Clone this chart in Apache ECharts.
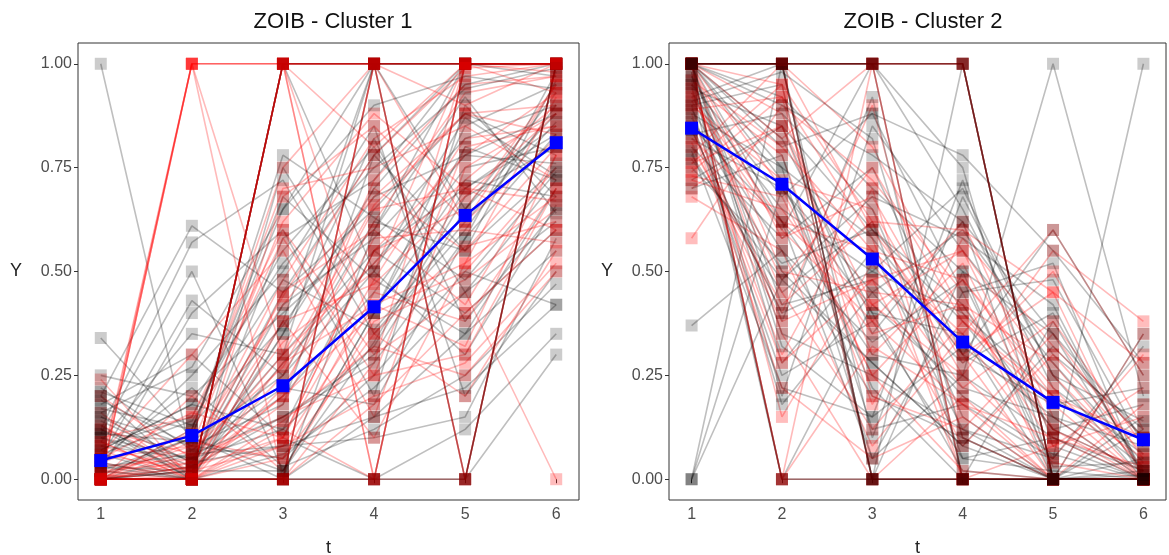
<!DOCTYPE html>
<html>
<head>
<meta charset="utf-8">
<script src="https://cdn.jsdelivr.net/npm/echarts@6/dist/echarts.min.js"></script>
<style>
  html, body { margin: 0; padding: 0; background: #fff; }
  #container { width: 1169px; height: 555px; }
</style>
</head>
<body>
<div id="container"></div>
<script type="text/javascript">
// time points and tick labels
var tValues = [1, 2, 3, 4, 5, 6];
var yTicks = [0, 0.25, 0.5, 0.75, 1];

// cluster 1 trajectories (gray and red groups)
var c1Gray = [
  [1.00, 0.05, 0.30, 0.55, 0.70, 0.85],
  [0.34, 0.10, 0.02, 0.40, 0.85, 0.95],
  [0.20, 0.61, 0.45, 0.78, 1.00, 1.00],
  [0.12, 0.57, 0.72, 0.35, 0.60, 0.90],
  [0.05, 0.43, 0.25, 0.62, 0.55, 0.75],
  [0.02, 0.40, 0.60, 0.20, 0.90, 0.68],
  [0.18, 0.30, 0.10, 0.00, 0.00, 0.30],
  [0.08, 0.15, 0.55, 0.80, 0.45, 0.62],
  [0.00, 0.00, 0.00, 0.15, 0.35, 0.55],
  [0.10, 0.05, 0.20, 0.45, 0.75, 0.80],
  [0.03, 0.02, 0.35, 0.70, 0.95, 1.00],
  [0.15, 0.08, 0.05, 0.25, 0.50, 0.42],
  [0.25, 0.20, 0.40, 0.60, 1.00, 0.97],
  [0.00, 0.12, 0.65, 1.00, 1.00, 1.00],
  [0.06, 0.00, 1.00, 0.50, 0.30, 0.66],
  [0.12, 0.03, 0.15, 0.30, 0.65, 0.88],
  [0.04, 0.25, 0.50, 0.85, 0.20, 0.50],
  [0.00, 0.06, 0.08, 0.10, 0.15, 0.58],
  [0.20, 0.00, 0.75, 0.40, 0.80, 0.72],
  [0.09, 0.35, 0.30, 1.00, 0.65, 0.93],
  [0.01, 0.10, 0.00, 0.00, 0.12, 0.35],
  [0.14, 0.04, 0.45, 0.65, 0.88, 0.78],
  [0.07, 0.18, 0.12, 0.55, 0.40, 0.60],
  [0.00, 0.02, 0.58, 0.72, 1.00, 1.00],
  [0.22, 0.07, 0.22, 0.18, 0.58, 0.98],
  [0.11, 0.50, 0.02, 0.33, 0.70, 0.83],
  [0.02, 0.00, 0.38, 1.00, 1.00, 1.00],
  [0.17, 0.12, 0.68, 0.48, 0.35, 0.70],
  [0.05, 0.22, 0.03, 0.12, 0.25, 0.47],
  [0.13, 0.00, 0.00, 0.60, 0.92, 0.64],
  [0.00, 0.00, 0.00, 0.00, 1.00, 1.00],
  [0.00, 0.00, 1.00, 1.00, 1.00, 1.00],
  [0.00, 0.00, 0.00, 1.00, 1.00, 1.00],
  [0.10, 0.02, 0.28, 0.52, 0.78, 0.76],
  [0.06, 0.14, 0.48, 0.36, 0.62, 0.86],
  [0.19, 0.08, 0.18, 0.78, 0.55, 0.96],
  [0.03, 0.00, 0.06, 0.22, 0.45, 0.72],
  [0.00, 0.03, 0.42, 0.58, 0.82, 0.90],
  [0.16, 0.27, 0.65, 0.90, 0.97, 0.94],
  [0.08, 0.05, 0.12, 0.32, 0.68, 0.80],
  [0.02, 0.10, 0.78, 0.63, 0.48, 0.74],
  [0.12, 0.00, 0.35, 0.82, 0.38, 0.65],
  [0.00, 0.02, 0.02, 0.40, 0.72, 0.68],
  [0.07, 0.18, 0.52, 0.75, 0.94, 0.99],
  [0.15, 0.04, 0.08, 0.15, 0.22, 0.42],
  [0.04, 0.00, 1.00, 1.00, 0.00, 1.00],
  [0.00, 0.00, 0.00, 0.00, 0.00, 1.00],
  [0.11, 0.09, 0.25, 0.50, 0.87, 0.73],
  [0.21, 0.13, 0.37, 0.68, 0.78, 0.88],
  [0.03, 0.06, 0.15, 0.28, 0.58, 0.83]
];
var c1Red = [
  [0.00, 1.00, 1.00, 1.00, 1.00, 1.00],
  [0.02, 1.00, 0.30, 0.70, 0.55, 0.80],
  [0.24, 0.00, 0.10, 0.55, 0.65, 0.95],
  [0.00, 0.00, 1.00, 0.00, 1.00, 1.00],
  [0.00, 0.03, 0.20, 0.40, 0.50, 0.75],
  [0.05, 0.08, 0.42, 0.68, 0.88, 0.90],
  [0.00, 0.00, 0.00, 1.00, 0.00, 1.00],
  [0.10, 0.15, 0.60, 0.30, 0.45, 0.00],
  [0.00, 0.05, 0.15, 0.25, 0.80, 0.85],
  [0.03, 1.00, 1.00, 0.80, 1.00, 0.98],
  [0.00, 0.00, 0.05, 0.45, 0.38, 0.70],
  [0.08, 0.02, 0.25, 0.65, 0.70, 0.60],
  [0.00, 0.10, 0.75, 1.00, 0.90, 1.00],
  [0.16, 0.00, 0.08, 0.20, 0.28, 0.52],
  [0.00, 0.04, 0.33, 0.50, 1.00, 0.93],
  [0.04, 0.00, 1.00, 1.00, 0.62, 0.82],
  [0.00, 0.20, 0.02, 0.38, 0.48, 0.65],
  [0.12, 0.06, 0.48, 0.82, 0.97, 1.00],
  [0.00, 0.00, 0.12, 0.00, 0.00, 1.00],
  [0.06, 0.30, 0.55, 0.15, 0.75, 0.88],
  [0.00, 0.02, 0.18, 0.58, 0.60, 0.57],
  [0.02, 0.00, 0.00, 0.28, 1.00, 1.00],
  [0.00, 0.12, 0.70, 0.75, 0.85, 0.72],
  [0.09, 0.00, 0.28, 0.42, 0.32, 0.78],
  [0.00, 1.00, 0.00, 1.00, 1.00, 1.00],
  [0.20, 0.05, 0.38, 0.10, 0.52, 0.92],
  [0.00, 0.00, 0.22, 0.62, 0.93, 0.97],
  [0.01, 0.08, 0.62, 0.88, 0.70, 0.67],
  [0.00, 0.00, 1.00, 0.35, 0.20, 0.55],
  [0.05, 0.16, 0.10, 0.48, 0.82, 0.85],
  [0.00, 0.00, 1.00, 1.00, 1.00, 1.00],
  [0.00, 0.00, 1.00, 0.00, 1.00, 1.00],
  [0.00, 0.00, 0.00, 1.00, 0.00, 1.00],
  [0.00, 0.00, 1.00, 1.00, 0.00, 1.00],
  [0.00, 1.00, 1.00, 1.00, 1.00, 1.00],
  [0.02, 0.04, 0.30, 0.52, 0.72, 0.90],
  [0.07, 0.00, 0.45, 0.60, 0.42, 0.78],
  [0.00, 0.09, 0.05, 0.35, 0.56, 0.62],
  [0.13, 0.02, 0.20, 0.72, 0.95, 0.97],
  [0.00, 0.00, 0.38, 0.47, 0.68, 0.88],
  [0.04, 0.11, 0.58, 0.25, 0.30, 0.70],
  [0.00, 0.03, 0.10, 0.55, 0.78, 0.93],
  [0.09, 0.00, 0.00, 0.18, 0.40, 0.60],
  [0.00, 0.07, 0.27, 0.66, 0.88, 0.83],
  [0.01, 0.00, 0.68, 0.85, 0.62, 0.95],
  [0.00, 0.00, 0.14, 0.32, 0.25, 0.50],
  [0.03, 0.05, 0.44, 0.78, 0.99, 1.00],
  [0.00, 0.00, 1.00, 1.00, 1.00, 1.00],
  [0.06, 0.02, 0.08, 0.42, 0.52, 0.68],
  [0.00, 0.00, 0.00, 0.00, 1.00, 1.00]
];
var c1Mean = [0.045, 0.105, 0.225, 0.415, 0.635, 0.81];

// cluster 2 trajectories
var c2Gray = [
  [0.00, 1.00, 1.00, 0.75, 0.00, 0.00],
  [0.37, 0.55, 0.20, 0.10, 0.00, 0.05],
  [1.00, 1.00, 1.00, 1.00, 0.00, 0.00],
  [0.90, 0.18, 0.45, 0.60, 0.30, 0.12],
  [1.00, 0.80, 0.88, 0.78, 0.55, 0.28],
  [0.95, 0.00, 0.00, 0.00, 0.00, 0.00],
  [0.85, 0.62, 0.30, 0.25, 1.00, 0.20],
  [1.00, 0.92, 0.70, 0.50, 0.35, 0.00],
  [0.78, 0.45, 0.62, 0.05, 0.10, 0.02],
  [0.00, 0.70, 0.40, 0.35, 0.00, 0.35],
  [0.92, 1.00, 0.10, 0.68, 0.25, 0.00],
  [1.00, 0.28, 0.55, 0.12, 0.05, 1.00],
  [0.88, 0.75, 0.05, 0.45, 0.48, 0.08],
  [1.00, 0.38, 0.92, 0.00, 0.38, 0.02],
  [0.72, 0.85, 0.35, 0.62, 0.00, 0.15],
  [0.98, 0.00, 0.42, 0.22, 0.15, 0.00],
  [0.80, 0.58, 0.75, 0.30, 0.60, 0.25],
  [1.00, 1.00, 0.00, 0.50, 0.00, 0.00],
  [0.00, 0.48, 0.28, 0.08, 0.32, 0.10],
  [0.93, 0.65, 0.50, 0.40, 0.20, 0.03],
  [1.00, 0.32, 0.15, 0.72, 0.08, 0.00],
  [0.83, 0.88, 0.65, 0.15, 0.00, 0.12],
  [0.96, 0.20, 0.85, 0.55, 0.28, 0.04],
  [1.00, 0.72, 0.22, 0.00, 0.00, 0.00],
  [0.75, 0.52, 0.60, 0.38, 0.12, 0.18],
  [0.90, 0.95, 0.00, 1.00, 0.00, 0.00],
  [1.00, 0.42, 0.48, 0.28, 0.40, 0.01],
  [0.70, 0.78, 0.12, 0.18, 0.05, 0.32],
  [0.97, 0.60, 1.00, 0.65, 0.22, 0.06],
  [0.86, 0.25, 0.38, 0.05, 0.02, 0.00],
  [1.00, 1.00, 1.00, 1.00, 0.00, 0.00],
  [1.00, 1.00, 0.00, 0.00, 0.00, 0.00],
  [1.00, 0.00, 0.00, 0.00, 0.00, 0.00],
  [1.00, 1.00, 1.00, 0.00, 0.00, 0.00],
  [1.00, 1.00, 0.00, 0.00, 0.00, 0.00],
  [0.94, 0.85, 0.60, 0.42, 0.12, 0.02],
  [0.82, 0.70, 0.45, 0.20, 0.06, 0.00],
  [1.00, 0.90, 0.78, 0.62, 0.35, 0.10],
  [0.89, 0.55, 0.33, 0.48, 0.03, 0.04],
  [0.97, 0.35, 0.25, 0.12, 0.00, 0.00],
  [1.00, 0.75, 0.58, 0.30, 0.18, 0.22],
  [0.77, 0.48, 0.68, 0.58, 0.42, 0.00],
  [0.91, 0.98, 0.82, 0.10, 0.00, 0.02],
  [1.00, 0.62, 0.05, 0.25, 0.10, 0.00],
  [0.84, 0.40, 0.50, 0.70, 0.25, 0.14],
  [1.00, 0.82, 0.40, 0.02, 0.00, 0.00],
  [0.79, 0.22, 0.15, 0.32, 0.15, 0.08],
  [1.00, 1.00, 1.00, 1.00, 0.00, 0.00],
  [0.95, 0.68, 0.88, 0.45, 0.52, 0.00],
  [0.87, 0.50, 0.28, 0.08, 0.00, 0.01]
];
var c2Red = [
  [0.58, 0.90, 0.72, 0.45, 0.00, 0.00],
  [1.00, 1.00, 1.00, 1.00, 0.00, 0.00],
  [0.80, 0.42, 0.62, 0.25, 0.55, 0.38],
  [0.70, 0.85, 0.30, 0.52, 0.10, 0.00],
  [1.00, 0.00, 1.00, 0.00, 0.00, 0.00],
  [0.92, 0.62, 0.55, 0.35, 0.60, 0.25],
  [0.76, 0.95, 0.00, 0.20, 0.00, 0.35],
  [1.00, 0.50, 0.45, 0.42, 0.28, 0.02],
  [0.88, 0.30, 0.70, 0.00, 0.00, 0.00],
  [0.95, 0.78, 0.18, 0.58, 0.32, 0.10],
  [1.00, 1.00, 0.60, 0.30, 0.45, 0.00],
  [0.73, 0.68, 0.25, 0.48, 0.20, 0.05],
  [0.84, 0.40, 0.90, 0.10, 0.00, 0.18],
  [1.00, 0.88, 0.38, 0.62, 0.15, 0.00],
  [0.68, 0.55, 0.08, 0.35, 0.05, 0.30],
  [0.98, 0.15, 0.52, 0.22, 0.38, 0.08],
  [0.78, 1.00, 0.80, 0.40, 0.12, 0.00],
  [1.00, 0.35, 0.00, 0.00, 0.00, 0.00],
  [0.90, 0.72, 0.65, 0.28, 0.50, 0.12],
  [0.82, 0.62, 0.42, 0.55, 0.25, 0.03],
  [1.00, 0.00, 0.32, 0.18, 0.00, 0.00],
  [0.74, 0.92, 0.58, 0.00, 0.08, 0.22],
  [0.94, 0.45, 0.12, 0.38, 0.18, 0.00],
  [1.00, 0.82, 1.00, 1.00, 0.00, 0.00],
  [0.86, 0.28, 0.48, 0.08, 0.30, 0.06],
  [1.00, 0.00, 0.00, 0.00, 0.00, 0.00],
  [1.00, 1.00, 0.00, 0.00, 0.00, 0.00],
  [1.00, 1.00, 1.00, 0.00, 0.00, 0.00],
  [0.96, 0.80, 0.55, 0.48, 0.22, 0.00],
  [0.72, 0.65, 0.35, 0.42, 0.08, 0.15],
  [1.00, 0.58, 0.68, 0.30, 0.00, 0.00],
  [0.89, 0.92, 0.20, 0.12, 0.35, 0.05],
  [0.81, 0.38, 0.48, 0.55, 0.12, 0.02],
  [1.00, 0.70, 0.25, 0.02, 0.00, 0.00],
  [0.93, 0.48, 0.75, 0.38, 0.20, 0.10],
  [0.76, 0.85, 0.42, 0.25, 0.04, 0.00],
  [1.00, 0.95, 0.62, 0.60, 0.45, 0.28],
  [0.85, 0.22, 0.05, 0.15, 0.00, 0.00],
  [1.00, 1.00, 1.00, 1.00, 0.00, 0.00],
  [0.91, 0.60, 0.38, 0.18, 0.10, 0.03]
];
var c2Mean = [0.845, 0.71, 0.53, 0.33, 0.185, 0.095];

var grayLine = 'rgba(0,0,0,0.25)';
var grayPoint = 'rgba(0,0,0,0.2)';
var redLine = 'rgba(255,0,0,0.27)';
var redPoint = 'rgba(255,0,0,0.26)';

function toPoints(vals) {
    return vals.map(function (v, i) { return [tValues[i], v]; });
}

function oneTraj(vals, idx, lineCol, pointCol) {
    return {
        type: 'line',
        xAxisIndex: idx,
        yAxisIndex: idx,
        data: toPoints(vals),
        symbol: 'rect',
        symbolSize: 12,
        silent: true,
        lineStyle: { color: lineCol, width: 1.6 },
        itemStyle: { color: pointCol, borderWidth: 0 },
        z: 2
    };
}

// draw gray and red trajectories interleaved, so overlaps mix like the original
function trajSeries(grays, reds, idx) {
    var out = [];
    var n = Math.max(grays.length, reds.length);
    for (var i = 0; i < n; i++) {
        if (i < grays.length) out.push(oneTraj(grays[i], idx, grayLine, grayPoint));
        if (i < reds.length) out.push(oneTraj(reds[i], idx, redLine, redPoint));
    }
    return out;
}

function meanSeries(vals, idx) {
    return {
        type: 'line',
        xAxisIndex: idx,
        yAxisIndex: idx,
        data: toPoints(vals),
        symbol: 'rect',
        symbolSize: 13,
        silent: true,
        lineStyle: { color: '#0000ff', width: 2.5 },
        itemStyle: { color: '#0000ff', borderWidth: 0 },
        z: 5
    };
}

function xAxisFor(idx) {
    return {
        type: 'value', gridIndex: idx, min: 0.75, max: 6.25,
        name: 't', nameLocation: 'middle', nameGap: 39,
        nameTextStyle: { fontSize: 18, color: '#222', fontFamily: 'Liberation Sans' },
        axisLine: { show: false },
        axisTick: { show: true, length: 4, customValues: tValues, lineStyle: { color: '#333' } },
        axisLabel: { customValues: tValues, fontSize: 16, color: '#4d4d4d', margin: 7, fontFamily: 'Liberation Sans' },
        splitLine: { show: false }
    };
}

function yAxisFor(idx) {
    return {
        type: 'value', gridIndex: idx, min: -0.05, max: 1.05,
        name: 'Y', nameLocation: 'middle', nameGap: 56, nameRotate: 0,
        nameTextStyle: { fontSize: 18, color: '#222', fontFamily: 'Liberation Sans' },
        axisLine: { show: false },
        axisTick: { show: true, length: 4, customValues: yTicks, lineStyle: { color: '#333' } },
        axisLabel: {
            customValues: yTicks, fontSize: 16, color: '#4d4d4d', margin: 6, fontFamily: 'Liberation Sans',
            formatter: function (v) { return v.toFixed(2); }
        },
        splitLine: { show: false }
    };
}

var dom = document.getElementById('container');
var myChart = echarts.init(dom, null, { renderer: 'canvas' });

var series = []
    .concat(trajSeries(c1Gray, c1Red, 0))
    .concat([meanSeries(c1Mean, 0)])
    .concat(trajSeries(c2Gray, c2Red, 1))
    .concat([meanSeries(c2Mean, 1)]);

var option = {
    animation: false,
    backgroundColor: '#fff',
    title: [
        { text: 'ZOIB - Cluster 1', left: 328, top: 6, textAlign: 'center',
          textStyle: { fontSize: 22, fontWeight: 'normal', color: '#111', fontFamily: 'Liberation Sans' } },
        { text: 'ZOIB - Cluster 2', left: 918, top: 6, textAlign: 'center',
          textStyle: { fontSize: 22, fontWeight: 'normal', color: '#111', fontFamily: 'Liberation Sans' } }
    ],
    grid: [
        { left: 78, top: 43, width: 501, height: 457, outerBoundsMode: 'none', show: true, borderColor: '#333', borderWidth: 1, backgroundColor: 'transparent' },
        { left: 669, top: 43, width: 497, height: 457, outerBoundsMode: 'none', show: true, borderColor: '#333', borderWidth: 1, backgroundColor: 'transparent' }
    ],
    xAxis: [xAxisFor(0), xAxisFor(1)],
    yAxis: [yAxisFor(0), yAxisFor(1)],
    series: series
};

myChart.setOption(option);
window.addEventListener('resize', myChart.resize);
</script>
</body>
</html>
